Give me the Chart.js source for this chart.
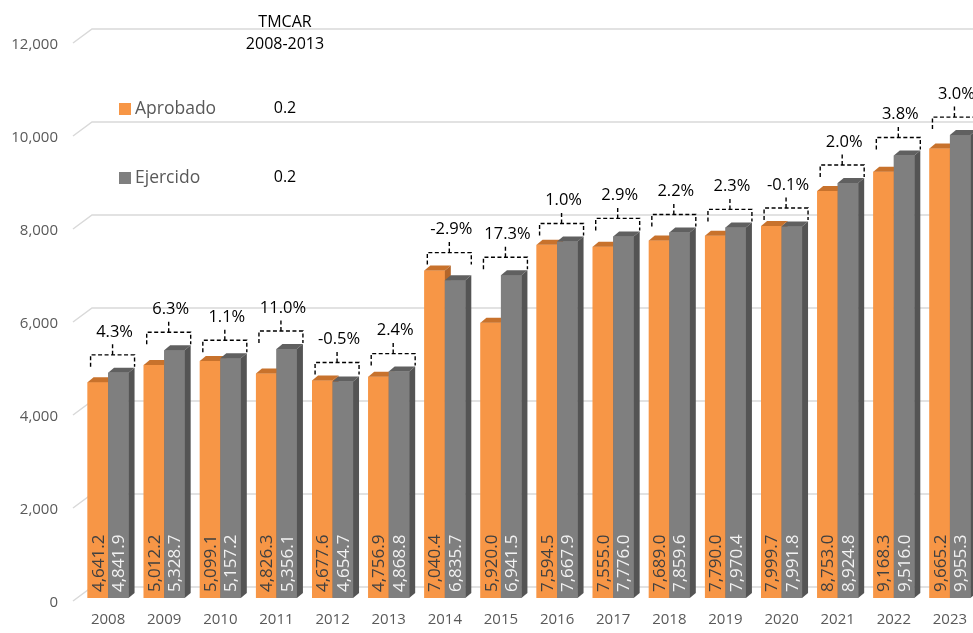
<!DOCTYPE html>
<html>
<head>
<meta charset="utf-8">
<script src="https://cdn.jsdelivr.net/npm/chart.js@4/dist/chart.umd.min.js"></script>
<style>
  html, body { margin: 0; padding: 0; background: #fff; overflow: hidden; }
  #wrap { width: 1000px; height: 633px; }
</style>
</head>
<body>
<div id="wrap"><canvas id="myChart" width="1000" height="633"></canvas></div>
<script>
const years = ["2008", "2009", "2010", "2011", "2012", "2013", "2014", "2015",
  "2016", "2017", "2018", "2019", "2020", "2021", "2022", "2023"];
const aprobado = [4641.2, 5012.2, 5099.1, 4826.3, 4677.6, 4756.9, 7040.4, 5920.0,
  7594.5, 7555.0, 7689.0, 7790.0, 7999.7, 8753.0, 9168.3, 9665.2];
const ejercido = [4841.9, 5328.7, 5157.2, 5356.1, 4654.7, 4868.8, 6835.7, 6941.5,
  7667.9, 7776.0, 7859.6, 7970.4, 7991.8, 8924.8, 9516.0, 9955.3];
const variacion = [4.3, 6.3, 1.1, 11.0, -0.5, 2.4, -2.9, 17.3,
  1.0, 2.9, 2.2, 2.3, -0.1, 2.0, 3.8, 3.0];
const tmcarTitle = ["TMCAR", "2008-2013"];
const tmcarValues = ["0.2", "0.2"];

const FONT = "'Open Sans', sans-serif";
const DX = 6, DY = 5; // profundidad 3D
const faces = [
  { front: "#F79646", top: "#C8722C", side: "#B4662A", text: "#404040" },
  { front: "#7F7F7F", top: "#606060", side: "#545454", text: "#F2F2F2" }
];

const fmt = (v) => v.toLocaleString("en-US", { minimumFractionDigits: 1, maximumFractionDigits: 1 });

function drawBar(ctx, bar, c) {
  const l = bar.x - bar.width / 2, r = bar.x + bar.width / 2, t = bar.y, b = bar.base;
  ctx.fillStyle = c.front;
  ctx.fillRect(l, t, r - l, b - t);
  ctx.fillStyle = c.top;
  ctx.beginPath();
  ctx.moveTo(l, t); ctx.lineTo(l + DX, t - DY); ctx.lineTo(r + DX, t - DY); ctx.lineTo(r, t);
  ctx.closePath(); ctx.fill();
  ctx.fillStyle = c.side;
  ctx.beginPath();
  ctx.moveTo(r, t); ctx.lineTo(r + DX, t - DY); ctx.lineTo(r + DX, b - DY); ctx.lineTo(r, b);
  ctx.closePath(); ctx.fill();
}

const backWall = {
  id: "backWall",
  beforeDatasetsDraw(chart) {
    const ctx = chart.ctx, y = chart.scales.y, a = chart.chartArea;
    ctx.save();
    ctx.strokeStyle = "#D9D9D9";
    ctx.lineWidth = 1.5;
    y.ticks.forEach((t) => {
      const py = y.getPixelForValue(t.value);
      ctx.beginPath();
      ctx.moveTo(a.left - 7, py + 3);
      ctx.lineTo(a.left + 12, py - 11);
      ctx.lineTo(chart.width, py - 11);
      ctx.stroke();
    });
    ctx.restore();
  }
};

const bars3d = {
  id: "bars3d",
  afterDatasetsDraw(chart) {
    const ctx = chart.ctx;
    const m0 = chart.getDatasetMeta(0).data, m1 = chart.getDatasetMeta(1).data;
    ctx.save();
    for (let i = 0; i < years.length; i++) {
      drawBar(ctx, m0[i], faces[0]);
      drawBar(ctx, m1[i], faces[1]);
    }
    // valores dentro de las barras
    ctx.font = "17px " + FONT;
    ctx.textAlign = "left";
    ctx.textBaseline = "middle";
    [m0, m1].forEach((meta, d) => {
      const vals = d === 0 ? aprobado : ejercido;
      meta.forEach((bar, i) => {
        ctx.save();
        ctx.translate(bar.x + 1, bar.base - 6);
        ctx.rotate(-Math.PI / 2);
        ctx.fillStyle = faces[d].text;
        ctx.fillText(fmt(vals[i]), 0, 0);
        ctx.restore();
      });
    });
    // corchetes con la variación
    for (let i = 0; i < years.length; i++) {
      const o = m0[i], g = m1[i];
      const left = o.x - o.width / 2 + 3, right = g.x + g.width / 2 + DX;
      const cx = (left + right) / 2;
      const legY = Math.min(o.y, g.y) - DY - 1;
      const hy = legY - 12;
      ctx.setLineDash([4, 2.5]);
      ctx.strokeStyle = "#000";
      ctx.lineWidth = 1.4;
      ctx.beginPath();
      ctx.moveTo(left, legY); ctx.lineTo(left, hy); ctx.lineTo(right, hy); ctx.lineTo(right, legY);
      ctx.moveTo(cx, hy); ctx.lineTo(cx, hy - 11);
      ctx.stroke();
      ctx.setLineDash([]);
      ctx.fillStyle = "#000";
      ctx.font = "16.5px " + FONT;
      ctx.textAlign = "center";
      ctx.textBaseline = "middle";
      ctx.fillText(variacion[i].toFixed(1) + "%", cx + 2, hy - 23);
    }
    ctx.restore();
  }
};

const legendBox = {
  id: "legendBox",
  afterDraw(chart) {
    const ctx = chart.ctx;
    ctx.save();
    ctx.textBaseline = "middle";
    ctx.font = "16px " + FONT;
    ctx.fillStyle = "#000";
    ctx.textAlign = "center";
    ctx.fillText(tmcarTitle[0], 285, 22);
    ctx.fillText(tmcarTitle[1], 285, 44);
    const rows = [109, 178];
    chart.data.datasets.forEach((ds, d) => {
      ctx.fillStyle = faces[d].front;
      ctx.fillRect(119, rows[d] - 6, 12, 12);
      ctx.fillStyle = "#595959";
      ctx.font = "17.5px " + FONT;
      ctx.textAlign = "left";
      ctx.fillText(ds.label, 135, rows[d]);
      ctx.fillStyle = "#000";
      ctx.font = "16px " + FONT;
      ctx.textAlign = "center";
      ctx.fillText(tmcarValues[d], 285, rows[d] - 1);
    });
    ctx.restore();
  }
};

new Chart(document.getElementById("myChart").getContext("2d"), {
  type: "bar",
  data: {
    labels: years,
    datasets: [
      { label: "Aprobado", data: aprobado, backgroundColor: faces[0].front, barPercentage: 1, categoryPercentage: 0.73 },
      { label: "Ejercido", data: ejercido, backgroundColor: faces[1].front, barPercentage: 1, categoryPercentage: 0.73 }
    ]
  },
  options: {
    responsive: false,
    animation: false,
    layout: { padding: { top: 40, right: 22, left: 0, bottom: 0 } },
    plugins: { legend: { display: false }, tooltip: { enabled: false } },
    scales: {
      x: {
        grid: { display: false, drawTicks: false },
        border: { display: false },
        ticks: { color: "#595959", font: { family: FONT, size: 15 }, padding: 13, maxRotation: 0 },
        afterFit: (s) => { s.height = 35; }
      },
      y: {
        min: 0,
        max: 12000,
        grid: { display: false, drawTicks: false },
        border: { display: false },
        ticks: {
          stepSize: 2000,
          color: "#595959",
          font: { family: FONT, size: 15 },
          padding: 22,
          labelOffset: 5,
          callback: (v) => v.toLocaleString("en-US")
        },
        afterFit: (s) => { s.width = 80; }
      }
    }
  },
  plugins: [backWall, bars3d, legendBox]
});
</script>
</body>
</html>
